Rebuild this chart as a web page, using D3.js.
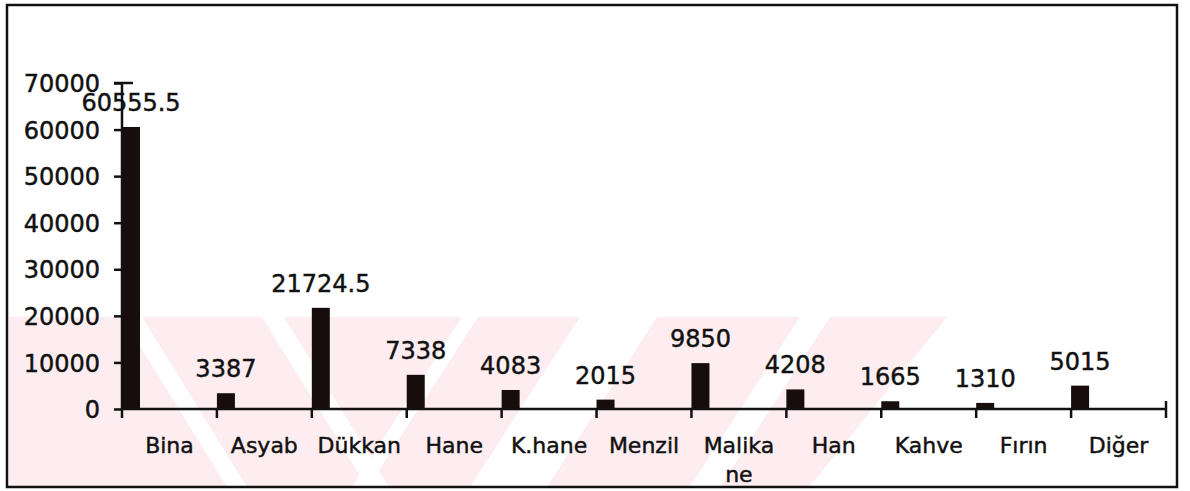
<!DOCTYPE html>
<html>
<head>
<meta charset="utf-8">
<script src="https://cdn.jsdelivr.net/npm/d3@7"></script>
<style>
  body { margin: 0; background: #fff; }
  text { font-family: "DejaVu Sans", Verdana, sans-serif; fill: #111; stroke: #111; stroke-width: 0.45px; }
</style>
</head>
<body>
<svg id="chart" width="1190" height="491"></svg>
<script>
// data
const categories = ['Bina', 'Asyab', 'Dükkan', 'Hane', 'K.hane', 'Menzil', 'Malikane', 'Han', 'Kahve', 'Fırın', 'Diğer'];
const tickLabels = [['Bina'], ['Asyab'], ['Dükkan'], ['Hane'], ['K.hane'], ['Menzil'], ['Malika', 'ne'], ['Han'], ['Kahve'], ['Fırın'], ['Diğer']];
const values = [60555.5, 3387, 21724.5, 7338, 4083, 2015, 9850, 4208, 1665, 1310, 5015];
const valueLabels = ['60555.5', '3387', '21724.5', '7338', '4083', '2015', '9850', '4208', '1665', '1310', '5015'];
const yTicks = [0, 10000, 20000, 30000, 40000, 50000, 60000, 70000];

const svg = d3.select('#chart');

// faint watermark stripes in the lower half
svg.append('clipPath').attr('id', 'wmclip')
  .append('polygon')
  .attr('points', '9,317 947,317 810,486 9,486');
const wmg = svg.append('g').attr('clip-path', 'url(#wmclip)');
wmg.append('rect').attr('x', 0).attr('y', 317).attr('width', 960).attr('height', 170).attr('fill', '#fdedf0');
// white gaps: "\" on the left, "/" on the right  [top x, width]
const gapsBack = [[122, 20], [262, 22]];
const gapsFwd = [[462, 16], [580, 77], [800, 30]];
gapsBack.forEach(function (g) {
  wmg.append('polygon')
    .attr('points', [[g[0], 317], [g[0] + g[1], 317], [g[0] + g[1] + 105, 487], [g[0] + 105, 487]].join(' '))
    .attr('fill', '#fff');
});
gapsFwd.forEach(function (g) {
  wmg.append('polygon')
    .attr('points', [[g[0], 317], [g[0] + g[1], 317], [g[0] + g[1] - 110, 487], [g[0] - 110, 487]].join(' '))
    .attr('fill', '#fff');
});

// frame
svg.append('rect')
  .attr('x', 7).attr('y', 5).attr('width', 1170).attr('height', 482)
  .attr('fill', 'none').attr('stroke', '#111').attr('stroke-width', 2.5);

const x = d3.scaleBand().domain(categories).range([122, 1166]).paddingInner(0).paddingOuter(0);
const y = d3.scaleLinear().domain([0, 70000]).range([409, 83]);
const barW = 18;

// bars
svg.append('g').selectAll('rect')
  .data(values)
  .enter()
  .append('rect')
  .attr('x', function (d, i) { return x(categories[i]); })
  .attr('y', function (d) { return y(d); })
  .attr('width', barW)
  .attr('height', function (d) { return y(0) - y(d); })
  .attr('fill', '#170d0d');

// y axis
const yAxis = svg.append('g')
  .attr('transform', 'translate(122,0)')
  .call(d3.axisLeft(y).tickValues(yTicks).tickSize(8).tickPadding(14).tickFormat(d3.format('d')));
yAxis.select('.domain').attr('stroke', '#111').attr('stroke-width', 2.5).attr('d', 'M0,' + y(70000) + 'V' + y(0));
yAxis.selectAll('.tick line').attr('stroke', '#111').attr('stroke-width', 2.5);
yAxis.selectAll('.tick text')
  .style('font-family', '"DejaVu Sans", Verdana, sans-serif')
  .style('font-size', '24px').attr('fill', '#111').attr('dy', '0.36em');
// top tick crosses the axis
svg.append('line')
  .attr('x1', 114).attr('x2', 133).attr('y1', y(70000)).attr('y2', y(70000))
  .attr('stroke', '#111').attr('stroke-width', 2.5);

// x axis line and ticks at band edges
svg.append('line')
  .attr('x1', 122).attr('x2', 1166).attr('y1', y(0)).attr('y2', y(0))
  .attr('stroke', '#111').attr('stroke-width', 2.5);
const edges = categories.map(function (c) { return x(c); }).concat([x.range()[1]]);
svg.append('g').selectAll('line')
  .data(edges)
  .enter()
  .append('line')
  .attr('x1', function (d) { return d; }).attr('x2', function (d) { return d; })
  .attr('y1', function (d, i) { return i === edges.length - 1 ? y(0) - 8 : y(0); })
  .attr('y2', y(0) + 9)
  .attr('stroke', '#111').attr('stroke-width', 2.5);

// category labels
const cat = svg.append('g').selectAll('text')
  .data(tickLabels)
  .enter()
  .append('text')
  .attr('x', function (d, i) { return x(categories[i]) + x.bandwidth() / 2; })
  .attr('y', 453)
  .attr('text-anchor', 'middle')
  .style('font-size', '22px');
cat.selectAll('tspan')
  .data(function (d) { return d; })
  .enter()
  .append('tspan')
  .attr('x', function () { return d3.select(this.parentNode).attr('x'); })
  .attr('dy', function (d, i) { return i === 0 ? 0 : 29; })
  .text(function (d) { return d; });

// value labels
svg.append('g').selectAll('text')
  .data(values)
  .enter()
  .append('text')
  .attr('x', function (d, i) { return x(categories[i]) + barW / 2; })
  .attr('y', function (d) { return y(d) - 16; })
  .attr('text-anchor', 'middle')
  .style('font-size', '24px')
  .text(function (d, i) { return valueLabels[i]; });
</script>
</body>
</html>
